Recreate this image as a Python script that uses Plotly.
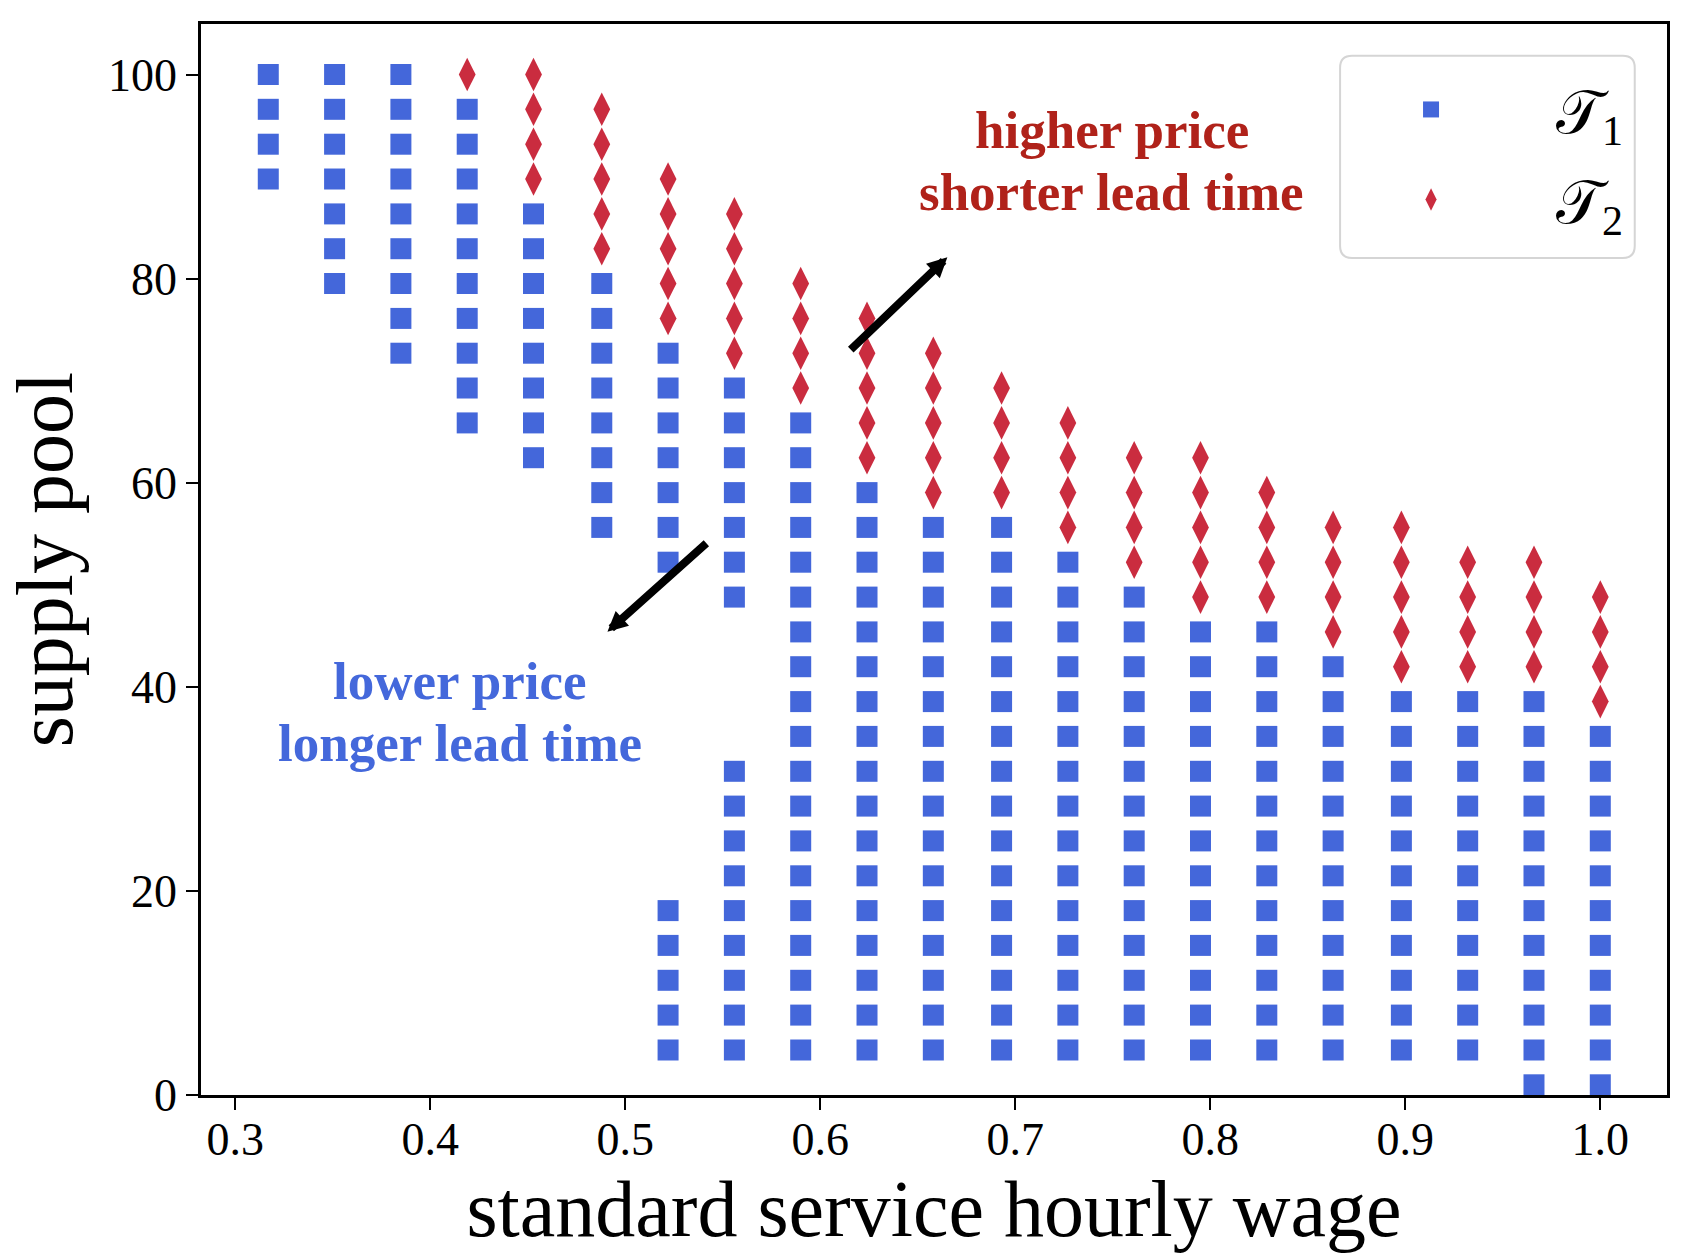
import plotly.graph_objects as go

# wage levels (x columns)
wage = [0.317, 0.351, 0.385, 0.419, 0.453, 0.488, 0.522, 0.556, 0.590, 0.624, 0.658,
        0.693, 0.727, 0.761, 0.795, 0.829, 0.863, 0.898, 0.932, 0.966, 1.000]

# supply pool levels (y rows)
supply = [1.00, 4.41, 7.83, 11.24, 14.66, 18.07, 21.48, 24.90, 28.31, 31.72,
          35.14, 38.55, 41.97, 45.38, 48.79, 52.21, 55.62, 59.03, 62.45, 65.86,
          69.28, 72.69, 76.10, 79.52, 82.93, 86.34, 89.76, 93.17, 96.59, 100.00]

# for each wage column: row ranges (first, last index into supply) chosen as T1 / T2
t1_rows = [[(26, 29)], [(23, 29)], [(21, 29)], [(19, 28)], [(18, 25)], [(16, 23)],
           [(1, 5), (15, 21)], [(1, 9), (14, 20)], [(1, 19)], [(1, 17)], [(1, 16)],
           [(1, 16)], [(1, 15)], [(1, 14)], [(1, 13)], [(1, 13)], [(1, 12)],
           [(1, 11)], [(1, 11)], [(0, 11)], [(0, 10)]]
t2_rows = [[], [], [], [(29, 29)], [(26, 29)], [(24, 28)], [(22, 26)], [(21, 25)],
           [(20, 23)], [(18, 22)], [(17, 21)], [(17, 20)], [(16, 19)], [(15, 18)],
           [(14, 18)], [(14, 17)], [(13, 16)], [(12, 16)], [(12, 15)], [(12, 15)],
           [(11, 14)]]

xticks = [0.3, 0.4, 0.5, 0.6, 0.7, 0.8, 0.9, 1.0]
yticks = [0, 20, 40, 60, 80, 100]


def points(rows):
    xs, ys = [], []
    for w, spans in zip(wage, rows):
        for lo, hi in spans:
            for k in range(lo, hi + 1):
                xs.append(w)
                ys.append(supply[k])
    return xs, ys


x1, y1 = points(t1_rows)
x2, y2 = points(t2_rows)

pad = '\u00a0' * 7
fig = go.Figure()
fig.add_trace(go.Scatter(x=x1, y=y1, mode='markers', name=pad + '𝒯<sub>1</sub>', legendgroup='a',
                         marker=dict(symbol='square', size=21, color='#4467DA')))
fig.add_trace(go.Scatter(x=x2, y=y2, mode='markers', name=pad + '𝒯<sub>2</sub>', legendgroup='b',
                         marker=dict(symbol='diamond-tall', size=24, color='#CA2C3F')))

red = '#B0221A'
blue = '#4468DB'
for txt, yy, col, xx in [('higher price', 94.6, red, 0.7494),
                         ('shorter lead time', 88.5, red, 0.7494),
                         ('lower price', 40.6, blue, 0.4151),
                         ('longer lead time', 34.5, blue, 0.4151)]:
    fig.add_annotation(x=xx, y=yy, xref='x', yref='y', text='<b>' + txt + '</b>',
                       showarrow=False, font=dict(size=53, color=col, family='Liberation Serif'))

# arrows
fig.add_annotation(x=0.6652, y=82.1, ax=0.6149, ay=72.9, xref='x', yref='y', axref='x', ayref='y',
                   text='', showarrow=True, arrowhead=2, arrowsize=0.5, arrowwidth=8, arrowcolor='black')
fig.add_annotation(x=0.4909, y=45.4, ax=0.5424, ay=54.2, xref='x', yref='y', axref='x', ayref='y',
                   text='', showarrow=True, arrowhead=2, arrowsize=0.5, arrowwidth=8, arrowcolor='black')

# rounded legend frame
x0, x1b, y0, y1b = 0.777, 0.978, 0.7815, 0.9704
rx, ry = 0.0082, 0.0112
frame = (f'M{x0 + rx},{y1b} L{x1b - rx},{y1b} Q{x1b},{y1b} {x1b},{y1b - ry} '
         f'L{x1b},{y0 + ry} Q{x1b},{y0} {x1b - rx},{y0} L{x0 + rx},{y0} '
         f'Q{x0},{y0} {x0},{y0 + ry} L{x0},{y1b - ry} Q{x0},{y1b} {x0 + rx},{y1b} Z')
fig.add_shape(type='path', path=frame, xref='paper', yref='paper',
              line=dict(color='#d5d5d5', width=2), fillcolor='white', layer='above')

axis_style = dict(ticks='outside', ticklen=12, tickwidth=2, tickcolor='black', showline=True,
                  linecolor='black', linewidth=2.5, mirror=True, showgrid=False, zeroline=False,
                  tickfont=dict(size=46, color='black', family='Liberation Serif'))
fig.update_xaxes(range=[0.2825, 1.0342], tickvals=xticks, ticktext=['%.1f' % v for v in xticks],
                 ticklabelstandoff=-10,
                 title=dict(text='standard service hourly wage', font=dict(size=80), standoff=4),
                 **axis_style)
fig.update_yaxes(range=[0, 104.95], tickvals=yticks,
                 title=dict(text='supply pool', font=dict(size=80), standoff=10),
                 **axis_style)

fig.update_layout(
    width=1692, height=1256,
    margin=dict(l=201, r=25, t=24, b=161),
    plot_bgcolor='white', paper_bgcolor='white',
    font=dict(family='Liberation Serif', color='black'),
    legend=dict(x=0.8254, y=0.9627, xanchor='left', yanchor='top', bgcolor='rgba(0,0,0,0)',
                borderwidth=0, font=dict(size=60), traceorder='grouped', tracegroupgap=9),
)

fig.write_html("out.html", config={'displayModeBar': False},
               post_script="document.body.style.margin='0';")
